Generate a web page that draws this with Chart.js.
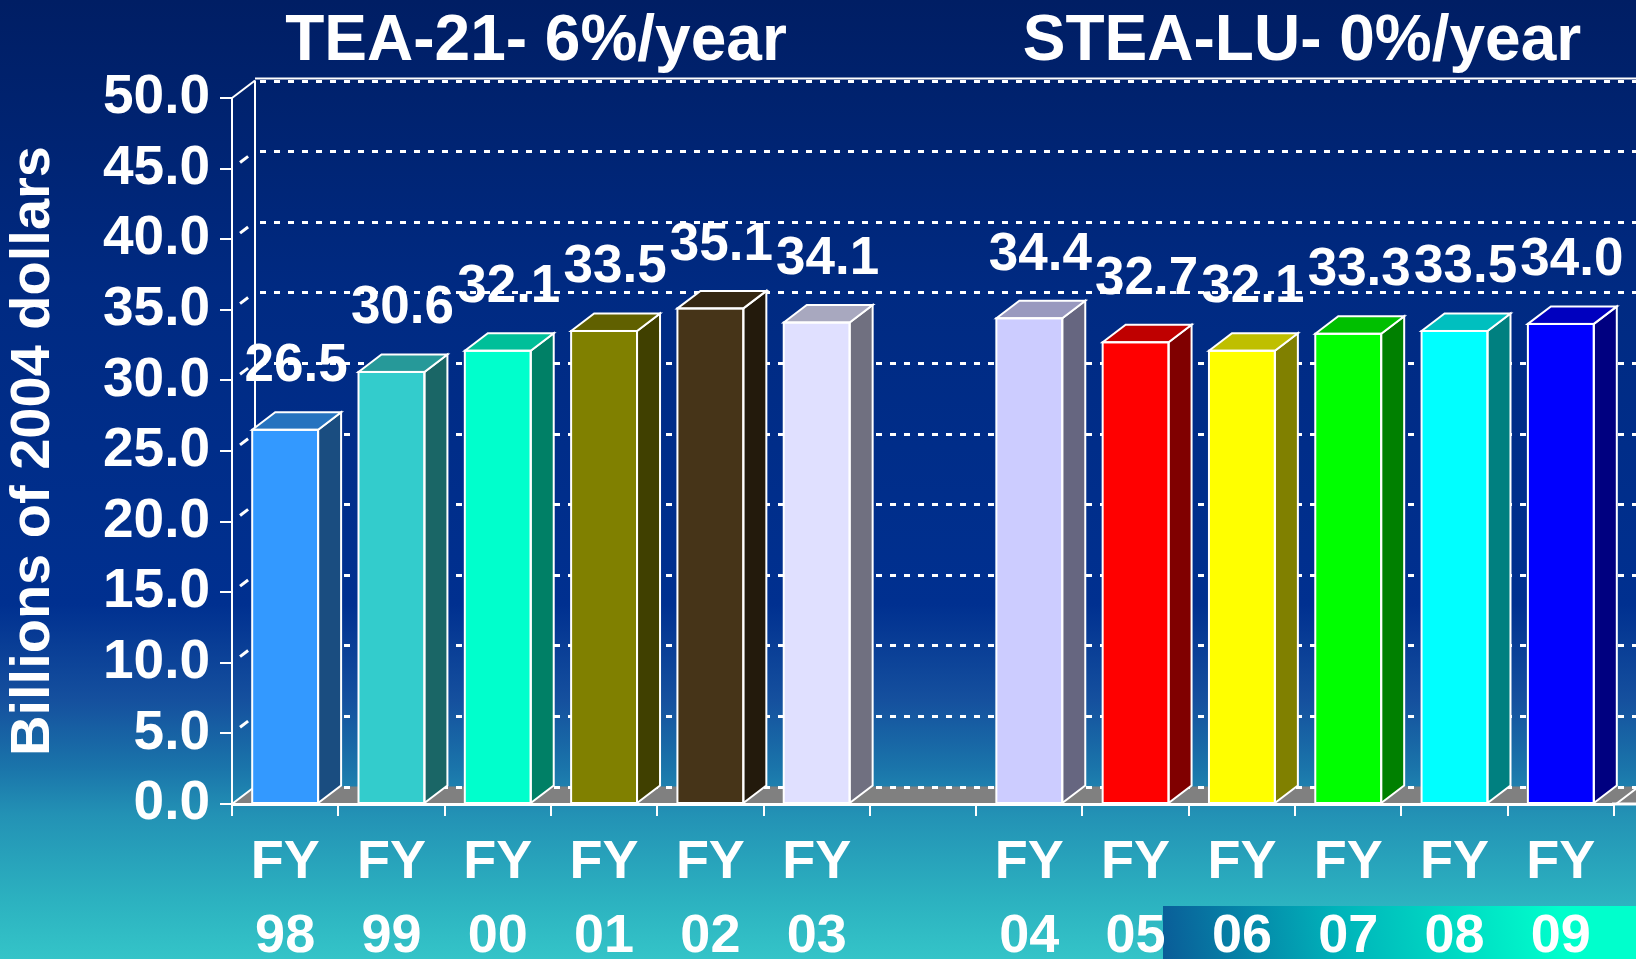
<!DOCTYPE html>
<html><head><meta charset="utf-8">
<script src="https://cdn.jsdelivr.net/npm/chart.js@4.4.1/dist/chart.umd.min.js"></script>
<style>html,body{margin:0;padding:0;background:#002a80;overflow:hidden}canvas{display:block}</style>
</head><body>
<canvas id="c" width="1636" height="959"></canvas>
<script>
// ---- data ----
const categories = [['FY','98'],['FY','99'],['FY','00'],['FY','01'],['FY','02'],['FY','03'],['',''],['FY','04'],['FY','05'],['FY','06'],['FY','07'],['FY','08'],['FY','09']];
const values = [26.5, 30.6, 32.1, 33.5, 35.1, 34.1, null, 34.4, 32.7, 32.1, 33.3, 33.5, 34.0];
const barColors = ['#3399FF','#33CCCC','#00FFCC','#808000','#463418','#E0E0FF','#000000','#CCCCFF','#FF0000','#FFFF00','#00FF00','#00FFFF','#0000FF'];
const yMin = 0, yMax = 50, yStep = 5;
const groupTitles = ['TEA-21- 6%/year', 'STEA-LU- 0%/year'];
const axisTitle = 'Billions of 2004 dollars';

// ---- styling ----
const FONT = '"Liberation Sans", Arial, Helvetica, sans-serif';
const W = 1636, H = 959;
const DX = 23, DY = -17.5;

function shade(hex, f) {
  const n = parseInt(hex.slice(1), 16);
  const r = Math.round(((n >> 16) & 255) * f), g = Math.round(((n >> 8) & 255) * f), b = Math.round((n & 255) * f);
  return `rgb(${r},${g},${b})`;
}

const scene = {
  id: 'scene',
  beforeDraw(chart) {
    const { ctx, chartArea: ca, scales: { y } } = chart;
    ctx.save();
    // background
    const g = ctx.createLinearGradient(0, 0, 0, H);
    g.addColorStop(0, '#001E64');
    g.addColorStop(0.3, '#002A82');
    g.addColorStop(0.63, '#003090');
    g.addColorStop(0.73, '#15509E');
    g.addColorStop(0.80, '#1A74AA');
    g.addColorStop(0.85, '#2392B5');
    g.addColorStop(0.94, '#2CB2C0');
    g.addColorStop(1, '#34C4C8');
    ctx.fillStyle = g;
    ctx.fillRect(0, 0, W, H);
    // decorative strip bottom right
    const g2 = ctx.createLinearGradient(1163, H, 1560, 906);
    g2.addColorStop(0, '#0A5C98');
    g2.addColorStop(0.45, '#00B4BA');
    g2.addColorStop(1, '#00FFCC');
    ctx.fillStyle = g2;
    ctx.fillRect(1163, 906, W - 1163, H - 906);

    const yb = y.getPixelForValue(yMin);
    // floor
    ctx.fillStyle = '#808080';
    ctx.beginPath();
    ctx.moveTo(ca.left, yb);
    ctx.lineTo(ca.left + DX, yb + DY);
    ctx.lineTo(W, yb + DY);
    ctx.lineTo(W, yb);
    ctx.closePath();
    ctx.fill();

    ctx.strokeStyle = '#ffffff';
    // back-wall gridlines
    ctx.lineWidth = 3;
    ctx.setLineDash([6, 8]);
    for (let v = yMin; v <= yMax; v += yStep) {
      const yy = Math.round(y.getPixelForValue(v) + DY) + 0.5;
      ctx.beginPath();
      ctx.moveTo(ca.left + DX + 5, yy);
      ctx.lineTo(W, yy);
      ctx.stroke();
    }
    ctx.setLineDash([]);
    // left wall diagonal dashes
    for (let v = yMin + yStep; v < yMax; v += yStep) {
      const yy = y.getPixelForValue(v);
      ctx.beginPath();
      ctx.moveTo(ca.left + DX * 0.35, yy + DY * 0.35);
      ctx.lineTo(ca.left + DX * 0.7, yy + DY * 0.7);
      ctx.stroke();
    }
    ctx.lineWidth = 2;
    // back wall left edge
    ctx.beginPath();
    ctx.moveTo(ca.left + DX, ca.top + DY);
    ctx.lineTo(ca.left + DX, yb + DY);
    ctx.stroke();
    // top edge
    ctx.lineWidth = 2;
    ctx.beginPath();
    ctx.moveTo(ca.left + DX, ca.top + DY - 2);
    ctx.lineTo(W, ca.top + DY - 2);
    ctx.stroke();
    ctx.beginPath();
    ctx.moveTo(ca.left, ca.top);
    ctx.lineTo(ca.left + DX, ca.top + DY);
    ctx.stroke();
    // floor edges
    ctx.beginPath();
    ctx.moveTo(ca.left, yb);
    ctx.lineTo(ca.left + DX, yb + DY);
    ctx.moveTo(ca.right + 2, yb);
    ctx.lineTo(ca.right + 2 + DX, yb + DY);
    ctx.stroke();
    ctx.lineWidth = 3;
    ctx.beginPath();
    ctx.moveTo(ca.right - 2, yb);
    ctx.lineTo(W, yb);
    ctx.stroke();
    ctx.restore();
  },
  afterDatasetsDraw(chart) {
    const { ctx } = chart;
    const meta = chart.getDatasetMeta(0);
    ctx.save();
    ctx.lineJoin = 'miter';
    meta.data.forEach((bar, i) => {
      if (values[i] == null) return;
      const { x, y, base, width } = bar.getProps(['x', 'y', 'base', 'width'], true);
      const l = x - width / 2, r = x + width / 2;
      const c = barColors[i];
      ctx.strokeStyle = '#ffffff';
      ctx.lineWidth = 2;
      // side face
      ctx.fillStyle = shade(c, 0.5);
      ctx.beginPath();
      ctx.moveTo(r, y);
      ctx.lineTo(r + DX, y + DY);
      ctx.lineTo(r + DX, base + DY);
      ctx.lineTo(r, base);
      ctx.closePath();
      ctx.fill();
      ctx.stroke();
      // top face
      ctx.fillStyle = shade(c, 0.75);
      ctx.beginPath();
      ctx.moveTo(l, y);
      ctx.lineTo(l + DX, y + DY);
      ctx.lineTo(r + DX, y + DY);
      ctx.lineTo(r, y);
      ctx.closePath();
      ctx.fill();
      ctx.stroke();
      // front outline
      ctx.strokeRect(l, y, width, base - y);
    });
    // value labels
    ctx.fillStyle = '#ffffff';
    ctx.font = `bold 53px ${FONT}`;
    ctx.textAlign = 'center';
    ctx.textBaseline = 'alphabetic';
    meta.data.forEach((bar, i) => {
      if (values[i] == null) return;
      const { x, y } = bar.getProps(['x', 'y'], true);
      ctx.fillText(values[i].toFixed(1), x + 11, y + DY - 31);
    });
    ctx.restore();
  },
  afterDraw(chart) {
    const { ctx } = chart;
    ctx.save();
    ctx.fillStyle = '#ffffff';
    ctx.font = `bold 64px ${FONT}`;
    ctx.textAlign = 'center';
    ctx.textBaseline = 'alphabetic';
    ctx.fillText(groupTitles[0], 536, 60);
    ctx.fillText(groupTitles[1], 1302, 60);
    ctx.restore();
  }
};

new Chart(document.getElementById('c'), {
  type: 'bar',
  data: {
    labels: categories,
    datasets: [{
      data: values,
      backgroundColor: barColors,
      borderColor: '#ffffff',
      borderWidth: 0,
      borderSkipped: false,
      categoryPercentage: 1,
      barPercentage: 0.62
    }]
  },
  options: {
    responsive: false,
    animation: false,
    events: [],
    layout: { padding: { top: 98, right: 22, bottom: 0, left: 0 } },
    plugins: { legend: { display: false }, tooltip: { enabled: false }, title: { display: false } },
    scales: {
      x: {
        offset: true,
        grid: { display: true, offset: true, drawOnChartArea: false, drawTicks: true, tickLength: 12, color: '#ffffff', lineWidth: 2 },
        border: { display: true, color: '#ffffff', width: 3 },
        ticks: {
          color: '#ffffff', autoSkip: false, maxRotation: 0, minRotation: 0, padding: 10,
          font: { family: FONT, weight: 'bold', size: 54, lineHeight: 1.37 }
        },
        afterFit(s) { s.height = 155; }
      },
      y: {
        min: yMin, max: yMax,
        grid: { display: true, drawOnChartArea: false, drawTicks: true, tickLength: 12, color: '#ffffff', lineWidth: 2 },
        border: { display: true, color: '#ffffff', width: 2 },
        ticks: {
          stepSize: yStep, color: '#ffffff', padding: 10,
          font: { family: FONT, weight: 'bold', size: 55 },
          callback: v => Number(v).toFixed(1)
        },
        title: {
          display: true, text: axisTitle, color: '#ffffff', padding: 0,
          font: { family: FONT, weight: 'bold', size: 56, lineHeight: 1.2 }
        },
        afterFit(s) { s.width = 232; }
      }
    }
  },
  plugins: [scene]
});
</script>
</body></html>
